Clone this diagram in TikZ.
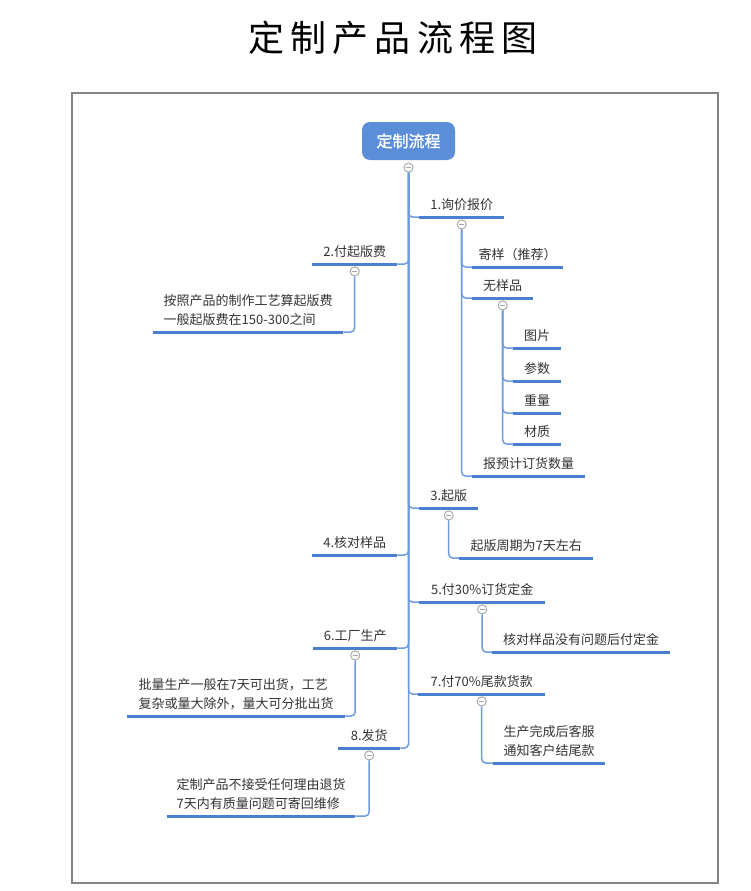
\documentclass[tikz,border=0pt]{standalone}
\usepackage{fontspec}
\newfontfamily\cjk{Noto Sans CJK SC}
\newfontfamily\cjkbold[FakeBold=1.6]{Noto Sans CJK SC}
\newfontfamily\cjktitle[LetterSpace=17]{Noto Sans CJK SC}
\usetikzlibrary{positioning}
\definecolor{rootblue}{HTML}{5B8DD9}
\definecolor{lineblue}{HTML}{4A7ECF}
\definecolor{linkblue}{HTML}{6E9CDF}
\definecolor{textgray}{HTML}{333333}
\definecolor{framegray}{HTML}{858585}
\tikzset{
  root/.style={fill=rootblue, rounded corners=8pt, text=white, font=\cjkbold\fontsize{16}{18}\selectfont,
    minimum width=93pt, minimum height=38pt, inner sep=0pt},
  topic/.style={anchor=south west, inner xsep=0pt, inner ysep=5.5pt, text depth=1.5pt,
    text=textgray, font=\cjk\fontsize{13}{19}\selectfont, align=left},
  uline/.style={lineblue, line width=3pt},
  link/.style={linkblue, line width=1.5pt, rounded corners=4pt},
  fold/.style={circle, draw=gray!70, fill=white, line width=0.8pt, minimum size=9pt, inner sep=0pt,
    path picture={\draw[gray!70, line width=0.8pt] ([xshift=-2.5pt]path picture bounding box.center) -- ([xshift=2.5pt]path picture bounding box.center);}}
}
\begin{document}
\begin{tikzpicture}[x=1pt, y=-1pt]
  \useasboundingbox (0,0) rectangle (750,891);
  % title and frame
  \node (title) at (393,38) {\cjktitle\fontsize{36}{40}\selectfont 定制产品流程图};
  \draw[framegray, line width=2.5pt] (72,93) rectangle (718,883);

  % root
  \node[root] (root) at (408.5,141) {定制流程};
  \node[fold, below=2.5pt of root] (c0) {};

  % right side
  \node[topic, minimum width=85pt] (n1) at (419,217) {1.询价报价};
  \node[topic, minimum width=91pt] (n11) at (472,267) {寄样（推荐）};
  \node[topic, minimum width=61pt] (n12) at (472,298) {无样品};
  \node[topic, minimum width=48pt] (n121) at (513,348) {图片};
  \node[topic, minimum width=48pt] (n122) at (513,381) {参数};
  \node[topic, minimum width=48pt] (n123) at (513,413) {重量};
  \node[topic, minimum width=48pt] (n124) at (513,444) {材质};
  \node[topic, minimum width=113pt] (n13) at (472,476) {报预计订货数量};
  \node[topic, minimum width=59pt] (n3) at (419,508) {3.起版};
  \node[topic, minimum width=134pt] (n31) at (459,558) {起版周期为7天左右};
  \node[topic, minimum width=126pt] (n5) at (419,602) {5.付30\%订货定金};
  \node[topic, minimum width=178pt] (n51) at (492,652) {核对样品没有问题后付定金};
  \node[topic, minimum width=127pt] (n7) at (418,694) {7.付70\%尾款货款};
  \node[topic, minimum width=112pt] (n71) at (493,763) {生产完成后客服\\通知客户结尾款};

  % left side
  \node[topic, minimum width=85pt] (n2) at (312,264) {2.付起版费};
  \node[topic, minimum width=190pt] (n21) at (153,332) {按照产品的制作工艺算起版费\\一般起版费在150-300之间};
  \node[topic, minimum width=85pt] (n4) at (312,555) {4.核对样品};
  \node[topic, minimum width=84pt] (n6) at (313,648) {6.工厂生产};
  \node[topic, minimum width=218pt] (n61) at (127,716) {批量生产一般在7天可出货，工艺\\复杂或量大除外，量大可分批出货};
  \node[topic, minimum width=62pt] (n8) at (338,748) {8.发货};
  \node[topic, minimum width=188pt] (n81) at (167,816) {定制产品不接受任何理由退货\\7天内有质量问题可寄回维修};

  % links
  \foreach \n in {n1,n3,n5,n7}
    \draw[link] (c0) |- (\n.south west);
  \foreach \n in {n2,n4,n6,n8}
    \draw[link] (c0) |- (\n.south east);
  \node[fold, below=2.5pt of n1] (c1) {};
  \foreach \n in {n11,n12,n13}
    \draw[link] (c1) |- (\n.south west);
  \node[fold, below=2.5pt of n12] (c12) {};
  \foreach \n in {n121,n122,n123,n124}
    \draw[link] (c12) |- (\n.south west);
  \node[fold, below=2.5pt of n3] (c3) {};
  \draw[link] (c3) |- (n31.south west);
  \node[fold, below=2.5pt of n5] (c5) {};
  \draw[link] (c5) |- (n51.south west);
  \node[fold, below=2.5pt of n7] (c7) {};
  \draw[link] (c7) |- (n71.south west);
  \node[fold, below=2.5pt of n2] (c2) {};
  \draw[link] (c2) |- (n21.south east);
  \node[fold, below=2.5pt of n6] (c6) {};
  \draw[link] (c6) |- (n61.south east);
  \node[fold, below=2.5pt of n8] (c8) {};
  \draw[link] (c8) |- (n81.south east);

  % underlines
  \foreach \n in {n1,n11,n12,n121,n122,n123,n124,n13,n3,n31,n5,n51,n7,n71,n2,n21,n4,n6,n61,n8,n81}
    \draw[uline] (\n.south west) -- (\n.south east);
  % redraw fold marks on top
  \foreach \c in {c0,c1,c12,c3,c5,c7,c2,c6,c8}
    \node[fold] at (\c) {};
\end{tikzpicture}
\end{document}
